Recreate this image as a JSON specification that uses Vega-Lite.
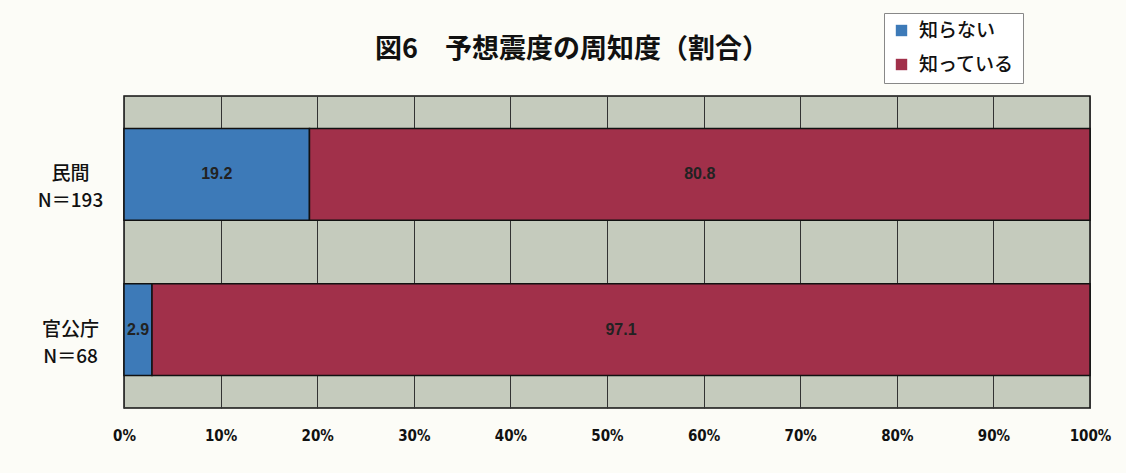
{
  "$schema": "https://vega.github.io/schema/vega-lite/v6.json",
  "width": 966,
  "height": 312,
  "autosize": "none",
  "padding": {"left": 124, "top": 96, "right": 36, "bottom": 65},
  "background": "#fcfcf7",
  "title": {"text": "図6　予想震度の周知度（割合）", "fontSize": 27, "font": "Noto Sans CJK JP", "fontWeight": "bold", "anchor": "middle", "dx": -35, "offset": 0, "dy": 51, "color": "#111"},
  "config": {"view": {"stroke": "#111", "strokeWidth": 1.5, "fill": "#c5cbbd"}},
  "data": {"values": [
    {"group": "民間|N＝193", "answer": "知らない", "order": 1, "value": 19.2},
    {"group": "民間|N＝193", "answer": "知っている", "order": 2, "value": 80.8},
    {"group": "官公庁|N＝68", "answer": "知らない", "order": 1, "value": 2.9},
    {"group": "官公庁|N＝68", "answer": "知っている", "order": 2, "value": 97.1}
  ]},
  "encoding": {
    "y": {"field": "group", "type": "nominal", "sort": ["民間|N＝193", "官公庁|N＝68"],
      "scale": {"paddingInner": 0.41, "paddingOuter": 0.21},
      "axis": {"title": null, "labelExpr": "split(datum.label, '|')", "labelFontSize": 19, "labelLineHeight": 27, "labelFont": "Noto Sans CJK JP", "labelFontWeight": 500, "labelColor": "#111", "labelAlign": "center", "ticks": false, "domain": false, "labelPadding": 54, "grid": false}},
    "x": {"field": "value", "type": "quantitative", "stack": "zero", "scale": {"domain": [0, 100], "nice": false},
      "axis": {"title": null, "values": [0, 10, 20, 30, 40, 50, 60, 70, 80, 90, 100], "labelExpr": "datum.value + '%'", "grid": true, "gridColor": "#333", "gridWidth": 1, "gridOpacity": 1, "ticks": false, "domain": false, "labelPadding": 20, "labelFontSize": 15, "labelFont": "DejaVu Sans Condensed", "labelFontWeight": "bold", "labelColor": "#111", "labelFlush": false}},
    "order": {"field": "order", "type": "quantitative"}
  },
  "layer": [
    {"mark": {"type": "bar", "stroke": "#111", "strokeWidth": 1.5},
      "encoding": {"color": {"field": "answer", "type": "nominal",
        "scale": {"domain": ["知らない", "知っている"], "range": ["#3d7ab8", "#a1304a"]},
        "legend": {"title": null, "orient": "none", "legendX": 760, "legendY": -83, "direction": "vertical", "strokeColor": "#888", "fillColor": "#ffffff", "padding": 8, "symbolType": "square", "symbolSize": 130, "symbolStrokeWidth": 0, "labelFontSize": 19, "labelFont": "Noto Sans CJK JP", "labelFontWeight": 500, "labelColor": "#111", "rowPadding": 14, "labelOffset": 8}}}},
    {"mark": {"type": "text", "font": "Liberation Sans", "fontWeight": "bold", "fontSize": 16, "color": "#222"},
      "encoding": {"text": {"field": "value", "type": "quantitative", "format": ".1f"},
        "x": {"field": "value", "type": "quantitative", "stack": "zero", "bandPosition": 0.5},
        "detail": {"field": "answer"}}}
  ]
}
